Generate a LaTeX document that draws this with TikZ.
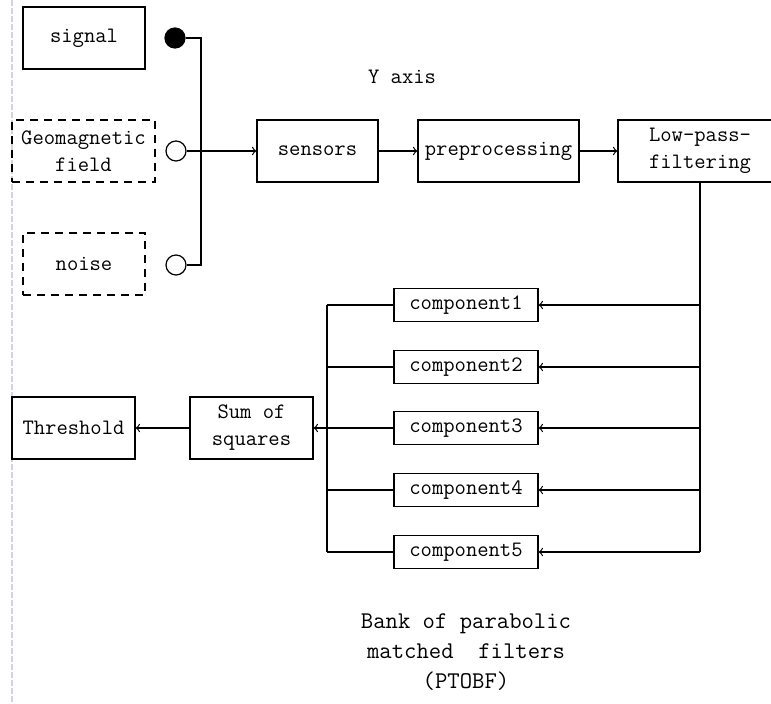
\documentclass[tikz,border=0pt]{standalone}
\usepackage{tikz}
\usetikzlibrary{arrows, calc, positioning}

\begin{document}
\begin{tikzpicture}%
	[x=0.5pt, y=-0.5pt,
	line width=0.6pt,
	font=\fontsize{11}{13.5}\selectfont\ttfamily,
	block/.style={draw, align=center, inner sep=0pt, minimum width=#1},
	block/.default=61pt,
	bigbox/.style={block=#1, minimum height=31pt},
	smallbox/.style={block=72pt, minimum height=16.5pt},
	ghost/.style={bigbox=#1, dashed, dash pattern=on 4pt off 3pt},
	tap/.style={circle, draw, inner sep=0pt, minimum size=10pt},
	wire/.style={->, >=to},
	margin/.style={color=blue!15!gray!30, dashed, dash pattern=on 3pt off 1pt}]
%
%% Page size and the margin rule on the left
%%
\useasboundingbox (0,0) rectangle (771,704);
\draw[margin] (12,0) -- (12,704);
%%
%%
%% Inputs and their taps
%%
\node[bigbox=61pt] (signal) at (84,38) {signal};
\node[ghost=71.5pt] (geo) at (83.5,151) {Geomagnetic\\field};
\node[ghost=61pt] (noise) at (84,264) {noise};
\node[tap, fill=black] (tsignal) at (175,38) {};
\node[tap] (tgeo) at (176,151) {};
\node[tap] (tnoise) at (176,265) {};
\coordinate (jtop) at (201,38);
\coordinate (jmid) at (201,151);
\coordinate (jbot) at (201,265);
%%
%%
%% Main chain
%%
\node[bigbox=60.5pt] (sensors) at (317.5,151) {sensors};
\node[bigbox=80.5pt] (pre) at (498.5,151) {preprocessing};
\node[bigbox=82pt] (lpf) at (700,151) {Low-pass-\\filtering};
\node (yaxis) at (402,77) {Y axis};
%%
%%
%% Filter bank
%%
\foreach \i/\y in {1/305, 2/367, 3/428, 4/490, 5/552}{
	\node[smallbox] (comp\i) at (466,\y) {component\i};
	\coordinate (rbus\i) at (lpf.south |- comp\i);
	\coordinate (lbus\i) at (327,\y);
}
\node[bigbox=61.5pt] (sum) at (251.5,428) {Sum of\\squares};
\node[bigbox=61.5pt] (thr) at (73.5,428) {Threshold};
\node[font=\fontsize{12}{15}\selectfont\ttfamily, align=center] (bank) at (466,652)
	{Bank of parabolic\\matched\ \ filters\\(PTOBF)};
%%
%%
%% Drawing the connections
%%
\draw (tsignal) -- (jtop) -- (jbot) -- (tnoise);
\draw[wire] (tgeo) -- (sensors);
\draw[wire] (sensors) -- (pre);
\draw[wire] (pre) -- (lpf);
\draw (lpf.south) -- (rbus5);
\draw (lbus1) -- (lbus5);
\foreach \i in {1,...,5}{
	\draw[wire] (rbus\i) -- (comp\i);
	\draw (comp\i) -- (lbus\i);
}
\draw[wire] (lbus3) -- (sum);
\draw[wire] (sum) -- (thr);
%%
%%
\end{tikzpicture}
\end{document}
